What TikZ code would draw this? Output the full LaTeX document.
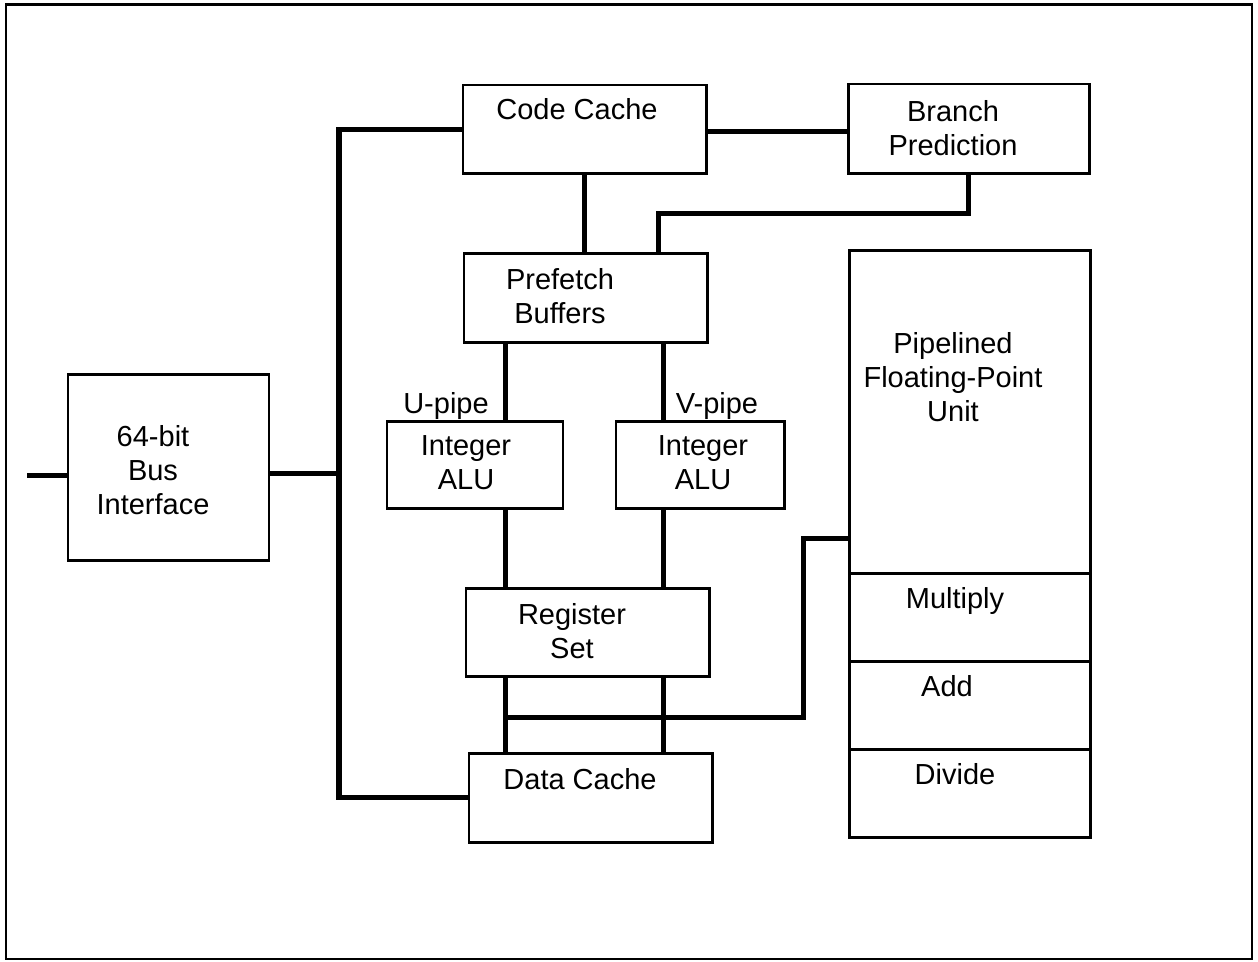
\documentclass[tikz,border=0pt]{standalone}
\usepackage{fontspec}
\setmainfont{Liberation Sans}
\newcommand\pxu{0.02cm}
\tikzset{
  blk/.style={draw,line width=1.7pt,inner sep=0pt},
  wire/.style={line width=2.85pt},
  txt/.style={anchor=north,inner sep=0pt,align=center},
}

\begin{document}
\begin{tikzpicture}[x=\pxu,y=-\pxu,font=\fontsize{16.5}{19.4}\selectfont]
  \useasboundingbox (0,0) rectangle (1258,961);
  \draw[line width=1.4pt] (6,4.5) rectangle (1252,959);

  % units
  \node[blk,minimum width=243*\pxu,minimum height=88*\pxu] (code) at (584.5,129) {};
  \node[blk,minimum width=241*\pxu,minimum height=89*\pxu] (branch) at (968.5,128.5) {};
  \node[blk,minimum width=243*\pxu,minimum height=89*\pxu] (prefetch) at (585.5,297.5) {};
  \node[blk,minimum width=201*\pxu,minimum height=186*\pxu] (bus) at (168.5,467) {};
  \node[blk,minimum width=176*\pxu,minimum height=87*\pxu] (aluu) at (475,464.5) {};
  \node[blk,minimum width=168*\pxu,minimum height=87*\pxu] (aluv) at (700,464.5) {};
  \node[blk,minimum width=243*\pxu,minimum height=88*\pxu] (regs) at (587.5,632) {};
  \node[blk,minimum width=243*\pxu,minimum height=89*\pxu] (dcache) at (590.5,797.5) {};
  \node[blk,minimum width=241*\pxu,minimum height=323*\pxu] (fpu) at (969.5,411.5) {};
  \node[blk,minimum width=241*\pxu,minimum height=88*\pxu] (fmul) at (969.5,617) {};
  \node[blk,minimum width=241*\pxu,minimum height=88*\pxu] (fadd) at (969.5,705) {};
  \node[blk,minimum width=241*\pxu,minimum height=88*\pxu] (fdiv) at (969.5,793) {};

  % texts
  \node[txt] (code-t) at (577,98) {Code Cache};
  \node[txt] (branch-t) at (953,100) {Branch\\Prediction};
  \node[txt] (prefetch-t) at (560,268) {Prefetch\\Buffers};
  \node[txt] (bus-t) at (153,425) {64-bit\\Bus\\Interface};
  \node[txt] (upipe-t) at (446,392) {U-pipe};
  \node[txt] (vpipe-t) at (717,392) {V-pipe};
  \node[txt] (aluu-t) at (466,435) {Integer\\ALU};
  \node[txt] (aluv-t) at (703,435) {Integer\\ALU};
  \node[txt] (regs-t) at (572,603) {Register\\Set};
  \node[txt] (dcache-t) at (580,768) {Data Cache};
  \node[txt] (fpu-t) at (953,332) {Pipelined\\Floating-Point\\Unit};
  \node[txt] (fmul-t) at (955,587) {Multiply};
  \node[txt] (fadd-t) at (947,675) {Add};
  \node[txt] (fdiv-t) at (955,763) {Divide};

  % buses
  \coordinate (bt) at (339,129);
  \coordinate (bb) at (339,797.5);
  \coordinate (bp) at (658,213);
  \coordinate (ux) at (505.5,0);
  \coordinate (vx) at (663,0);
  \coordinate (fa) at (505.5,717);
  \coordinate (fb) at (803,538);

  \draw[wire] (bus.west) ++(0,8) -- ++(-40,0);
  \draw[wire] (bus.east) ++(0,6) -- ++(70,0);
  \draw[wire] (code.west) -- (bt) -- (bb) -- (dcache.west);
  \draw[wire] (code.east) ++(0,2) -- ++(142,0);
  \draw[wire] (code.south) -- (code.south |- prefetch.north);
  \draw[wire] (branch.south) |- (bp) -- (bp |- prefetch.north);
  \foreach \p in {ux,vx} {
    \draw[wire] (prefetch.south -| \p) -- (aluu.north -| \p);
    \draw[wire] (aluu.south -| \p) -- (regs.north -| \p);
    \draw[wire] (regs.south -| \p) -- (dcache.north -| \p);
  }
  \draw[wire] (fa) -| (fb) -- (fb -| fpu.west);
\end{tikzpicture}
\end{document}
